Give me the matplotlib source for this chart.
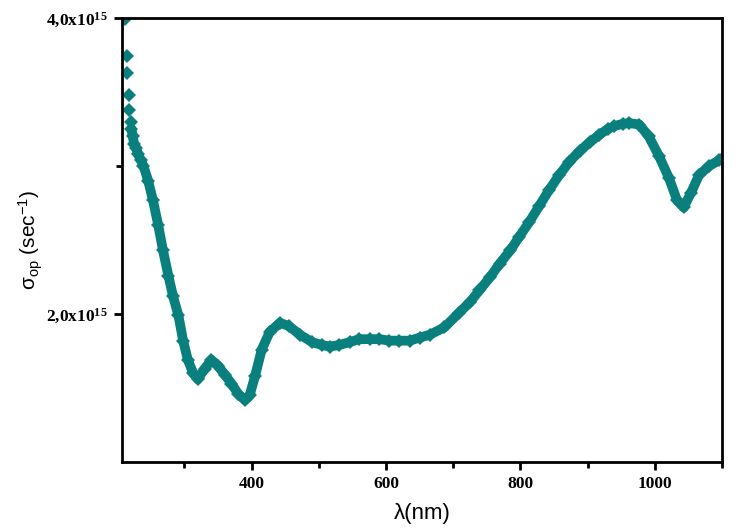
import numpy as np
import matplotlib
matplotlib.use('Agg')
from matplotlib import pyplot as plt
from matplotlib.ticker import FixedLocator, FixedFormatter

# values
wavelength = [211, 214, 215, 217, 218, 220, 221, 223, 225, 228, 231, 235, 239, 246,
              253, 261, 268, 276, 283, 291, 298, 305, 313, 320, 330, 340, 350, 360,
              370, 380, 390, 397, 405, 415, 427, 442, 455, 472, 490, 505, 516, 530,
              546, 560, 576, 590, 605, 620, 635, 650, 665, 687, 709, 725, 739, 755,
              769, 785, 798, 813, 828, 843, 858, 873, 888, 903, 917, 930, 940, 952,
              962, 977, 991, 1006, 1021, 1033, 1043, 1054, 1066, 1081, 1096, 1100]
sigma = [3.99, 3.74, 3.63, 3.48, 3.38, 3.30, 3.25, 3.20, 3.15, 3.12, 3.08, 3.04, 3.00, 2.90,
         2.77, 2.60, 2.43, 2.26, 2.12, 1.99, 1.82, 1.69, 1.60, 1.56, 1.63, 1.69, 1.65, 1.59,
         1.53, 1.46, 1.42, 1.45, 1.58, 1.76, 1.88, 1.94, 1.92, 1.86, 1.81, 1.79, 1.78, 1.79,
         1.81, 1.83, 1.83, 1.83, 1.82, 1.82, 1.82, 1.84, 1.86, 1.91, 2.01, 2.08, 2.16, 2.25,
         2.34, 2.43, 2.52, 2.62, 2.73, 2.84, 2.94, 3.03, 3.10, 3.16, 3.21, 3.25, 3.27, 3.285,
         3.29, 3.28, 3.20, 3.07, 2.92, 2.77, 2.72, 2.82, 2.94, 3.00, 3.04, 3.05]
ytick_vals = [2.0e15, 4.0e15]
ytick_labels = ['2,0x10$^{15}$', '4,0x10$^{15}$']
xtick_vals = [400, 600, 800, 1000]

plt.rcParams['mathtext.default'] = 'regular'

wl = np.array(wavelength)
sg = np.array(sigma) * 1e15
teal = '#0a807e'

fig = plt.figure(figsize=(7.42, 5.30), dpi=100)
ax = fig.add_axes([0.1644, 0.1283, 0.8086, 0.8377])

dense = wl >= 221
ax.plot(wl[dense], sg[dense], '-', color=teal, lw=7, solid_capstyle='round')
ax.plot(wl, sg, 'D', color=teal, ms=7, mew=0)

ax.set_xlim(207, 1100)
ax.set_ylim(1.0e15, 4.0e15)

ax.xaxis.set_major_locator(FixedLocator(xtick_vals))
ax.xaxis.set_minor_locator(FixedLocator([300, 500, 700, 900, 1100]))
ax.yaxis.set_major_locator(FixedLocator(ytick_vals))
ax.yaxis.set_major_formatter(FixedFormatter(ytick_labels))
ax.yaxis.set_minor_locator(FixedLocator([3.0e15]))

for s in ax.spines.values():
    s.set_linewidth(2)
ax.tick_params(which='major', direction='out', length=6, width=2, pad=4)
ax.tick_params(which='minor', direction='out', length=4, width=2)
for lab in ax.get_xticklabels() + ax.get_yticklabels():
    lab.set_family('Liberation Serif')
    lab.set_fontweight('bold')
    lab.set_fontsize(12.5)

ax.set_xlabel('λ(nm)', fontsize=16, family='Liberation Sans', labelpad=8)
ax.set_ylabel('σ$_{op}$ (sec$^{-1}$)', fontsize=15, family='Liberation Sans', labelpad=1)

plt.savefig('out.png', dpi=100)
